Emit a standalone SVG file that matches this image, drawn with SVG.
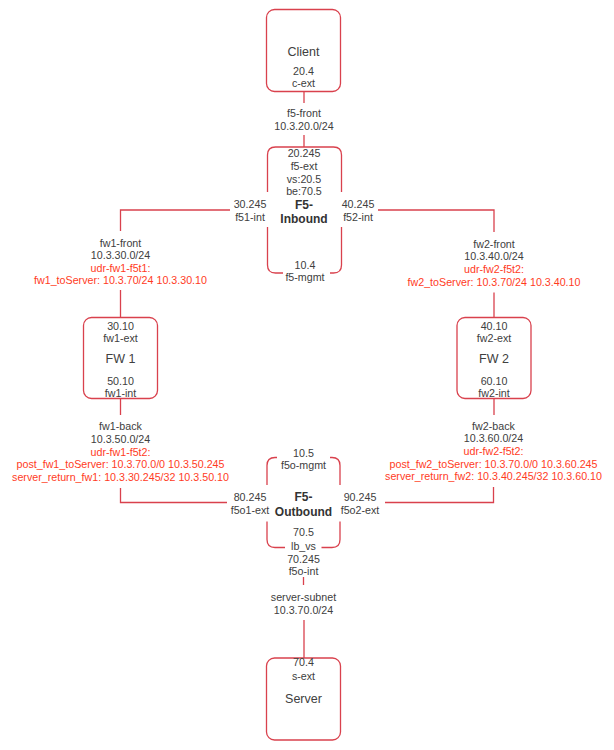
<svg xmlns="http://www.w3.org/2000/svg" width="614" height="750" viewBox="0 0 614 750">
<style>
  .box{fill:none;stroke:#d9414d;stroke-width:1.3}
  .ln{fill:none;stroke:#d9414d;stroke-width:1.3}
  text{font-family:"Liberation Sans",Arial,sans-serif;font-size:10.7px;fill:#404040;text-anchor:middle}
  .big{font-size:12.5px}
  .b{font-weight:bold;font-size:12px;fill:#333}
  .r{fill:#ff3b1e}
</style>
<rect width="614" height="750" fill="#ffffff"/>
<g id="connectors">
  <path class="ln" d="M304,91.5 V103"/>
  <path class="ln" d="M304,135 V147"/>
  <path class="ln" d="M230,210 H120.5 V231"/>
  <path class="ln" d="M120.5,290 V317.5"/>
  <path class="ln" d="M120.5,398.5 V415"/>
  <path class="ln" d="M120.5,488 V502.5 H227"/>
  <path class="ln" d="M378,210 H494 V232"/>
  <path class="ln" d="M494,292.5 V317.5"/>
  <path class="ln" d="M494,398.5 V415"/>
  <path class="ln" d="M493.5,487 V502.5 H385"/>
  <path class="ln" d="M303.5,577 V585"/>
  <path class="ln" d="M304,620 V658"/>
</g>
<g id="client">
  <rect class="box" x="266.5" y="9.5" width="74" height="82" rx="8"/>
  <text class="big" x="303.5" y="55.5">Client</text>
  <text x="303.5" y="75">20.4</text>
  <text x="303.5" y="87">c-ext</text>
</g>
<g id="f5-front-label">
  <text x="304" y="117">f5-front</text>
  <text x="304" y="130">10.3.20.0/24</text>
</g>
<g id="f5-inbound">
  <path class="box" d="M267.5,192 V155 Q267.5,147 275.5,147 H333.5 Q341.5,147 341.5,155 V192"/>
  <path class="box" d="M267.5,227 V265 Q267.5,273 275.5,273 H283"/>
  <path class="box" d="M330,273 H333.5 Q341.5,273 341.5,265 V227"/>
  <text x="304" y="157">20.245</text>
  <text x="304" y="170">f5-ext</text>
  <text x="304" y="182.5">vs:20.5</text>
  <text x="304" y="195">be:70.5</text>
  <text class="b" x="304" y="208.5">F5-</text>
  <text class="b" x="304" y="222.5">Inbound</text>
  <text x="250" y="208">30.245</text>
  <text x="250" y="221">f51-int</text>
  <text x="358" y="208">40.245</text>
  <text x="358" y="221">f52-int</text>
  <text x="305" y="269">10.4</text>
  <text x="305" y="281">f5-mgmt</text>
</g>
<g id="fw1-front-label">
  <text x="120.5" y="246.5">fw1-front</text>
  <text x="120.5" y="259">10.3.30.0/24</text>
  <text class="r" x="120.5" y="271.5">udr-fw1-f5t1:</text>
  <text class="r" x="120.5" y="284">fw1_toServer: 10.3.70/24 10.3.30.10</text>
</g>
<g id="fw1">
  <rect class="box" x="83.5" y="317.5" width="74" height="81" rx="8"/>
  <text x="120.5" y="330">30.10</text>
  <text x="120.5" y="342">fw1-ext</text>
  <text class="big" x="120.5" y="363">FW 1</text>
  <text x="120.5" y="384.5">50.10</text>
  <text x="120.5" y="397">fw1-int</text>
</g>
<g id="fw1-back-label">
  <text x="120.5" y="430">fw1-back</text>
  <text x="120.5" y="443">10.3.50.0/24</text>
  <text class="r" x="120.5" y="455.5">udr-fw1-f5t2:</text>
  <text class="r" x="120.5" y="468">post_fw1_toServer: 10.3.70.0/0 10.3.50.245</text>
  <text class="r" x="120.5" y="480.5">server_return_fw1: 10.3.30.245/32 10.3.50.10</text>
</g>
<g id="fw2-front-label">
  <text x="494" y="247.5">fw2-front</text>
  <text x="494" y="260">10.3.40.0/24</text>
  <text class="r" x="494" y="273">udr-fw2-f5t2:</text>
  <text class="r" x="494" y="285.5">fw2_toServer: 10.3.70/24 10.3.40.10</text>
</g>
<g id="fw2">
  <rect class="box" x="457" y="317.5" width="74" height="81" rx="8"/>
  <text x="494" y="330">40.10</text>
  <text x="494" y="342">fw2-ext</text>
  <text class="big" x="494" y="363">FW 2</text>
  <text x="494" y="384.5">60.10</text>
  <text x="494" y="397">fw2-int</text>
</g>
<g id="fw2-back-label">
  <text x="493.5" y="429.5">fw2-back</text>
  <text x="493.5" y="442">10.3.60.0/24</text>
  <text class="r" x="493.5" y="455">udr-fw2-f5t2:</text>
  <text class="r" x="493.5" y="467.5">post_fw2_toServer: 10.3.70.0/0 10.3.60.245</text>
  <text class="r" x="493.5" y="480">server_return_fw2: 10.3.40.245/32 10.3.60.10</text>
</g>
<g id="f5-outbound">
  <path class="box" d="M267,485 V465.5 Q267,457.5 275,457.5 H277"/>
  <path class="box" d="M330,457.5 H332 Q340,457.5 340,465.5 V485"/>
  <path class="box" d="M267,521.5 V539.5 Q267,547.5 275,547.5 H285"/>
  <path class="box" d="M321.5,547.5 H332 Q340,547.5 340,539.5 V521.5"/>
  <text x="303.5" y="457">10.5</text>
  <text x="303.5" y="469">f5o-mgmt</text>
  <text class="b" x="303.5" y="501">F5-</text>
  <text class="b" x="303.5" y="515.5">Outbound</text>
  <text x="250" y="501">80.245</text>
  <text x="250" y="513.5">f5o1-ext</text>
  <text x="360" y="501">90.245</text>
  <text x="360" y="513.5">f5o2-ext</text>
  <text x="303.5" y="536">70.5</text>
  <text x="303.5" y="550">lb_vs</text>
  <text x="303.5" y="562.5">70.245</text>
  <text x="303.5" y="575">f5o-int</text>
</g>
<g id="server-subnet-label">
  <text x="303.5" y="601">server-subnet</text>
  <text x="303.5" y="613.5">10.3.70.0/24</text>
</g>
<g id="server">
  <rect class="box" x="266.5" y="658" width="74" height="82" rx="8"/>
  <text x="303.5" y="666">70.4</text>
  <text x="303.5" y="680">s-ext</text>
  <text class="big" x="303.5" y="703">Server</text>
</g>
</svg>
